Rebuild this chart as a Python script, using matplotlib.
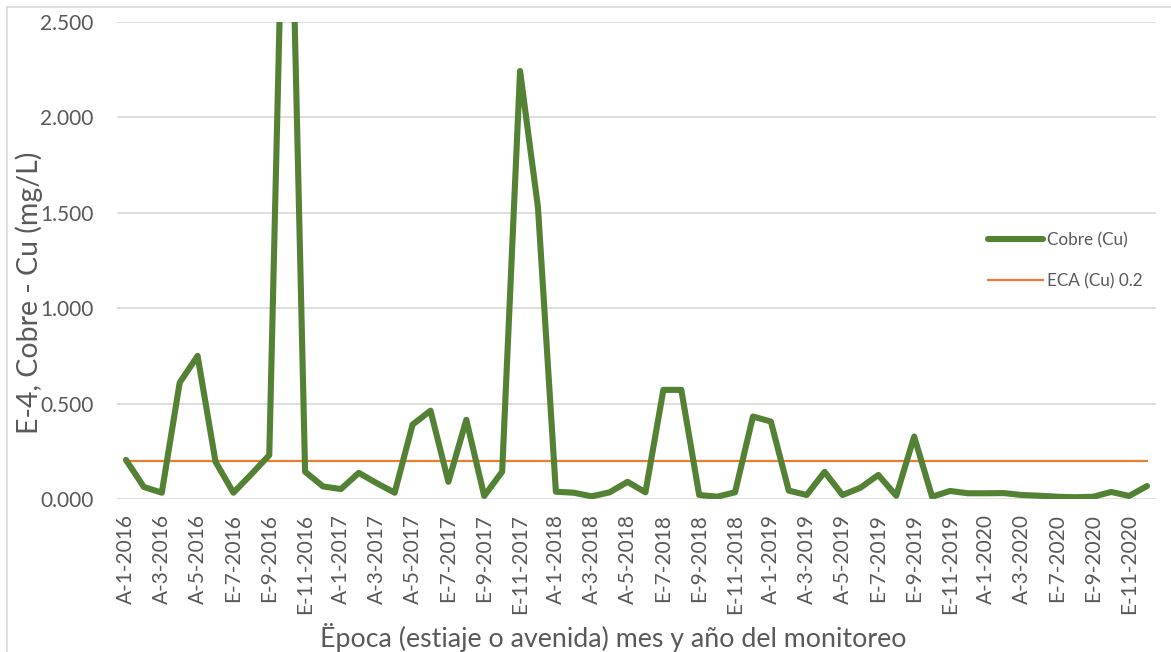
import matplotlib
matplotlib.use('Agg')
import matplotlib.pyplot as plt
from matplotlib.lines import Line2D

plt.rcParams['font.family'] = ['Lato', 'DejaVu Sans']

# monitoring months (A = avenida, E = estiaje)
years = [2016, 2017, 2018, 2019]
months_full = [1, 2, 3, 4, 5, 6, 7, 8, 9, 10, 11, 12]
months_2020 = [1, 2, 3, 4, 7, 8, 9, 10, 11, 12]

def season(m):
    return 'A' if m <= 5 else 'E'

categories = [f'{season(m)}-{m}-{y}' for y in years for m in months_full]
categories += [f'{season(m)}-{m}-2020' for m in months_2020]

# copper values (mg/L), E-4
cobre = [0.205, 0.063, 0.033, 0.610, 0.750, 0.195, 0.033, 0.130, 0.230, 4.200,
         0.143, 0.066, 0.052, 0.137, 0.083, 0.033, 0.390, 0.463, 0.090, 0.415,
         0.016, 0.143, 2.243, 1.528, 0.038, 0.033, 0.014, 0.035, 0.090, 0.035,
         0.572, 0.572, 0.021, 0.012, 0.035, 0.432, 0.406, 0.044, 0.021, 0.142,
         0.021, 0.059, 0.126, 0.017, 0.327, 0.012, 0.042, 0.030, 0.030, 0.031,
         0.021, 0.017, 0.012, 0.009, 0.012, 0.037, 0.016, 0.068]
eca_limit = 0.2
eca = [eca_limit] * len(categories)

grey_txt = '#595959'
grid_col = '#D9D9D9'

W, H = 1171, 652
fig = plt.figure(figsize=(W / 100, H / 100), dpi=100)
ax = fig.add_axes([117 / W, 1 - 499 / H, (1156 - 117) / W, (499 - 22) / H])

x = list(range(len(categories)))
ax.plot(x, cobre, color='#548235', lw=4.4, solid_joinstyle='round',
        solid_capstyle='round', label='Cobre (Cu)', zorder=3)
ax.plot(x, eca, color='#ED7D31', lw=1.6, label='ECA (Cu) 0.2', zorder=2)

ax.set_xlim(-0.5, len(categories) - 0.5)
ax.set_ylim(0, 2.5)
ax.set_yticks([0, 0.5, 1.0, 1.5, 2.0, 2.5])
ax.set_yticklabels([f'{v:.3f}' for v in [0, 0.5, 1.0, 1.5, 2.0, 2.5]])
ax.set_xticks(x[::2])
ax.set_xticklabels(categories[::2], rotation=90)
ax.tick_params(axis='y', length=0, pad=17, labelsize=15, labelcolor=grey_txt)
ax.tick_params(axis='x', length=0, pad=11, labelsize=15, labelcolor=grey_txt)
ax.grid(axis='y', color=grid_col, lw=1.2)
ax.set_axisbelow(True)
for s in ax.spines.values():
    s.set_visible(False)

fig.text(29 / W, 1 - 293 / H, 'E-4, Cobre - Cu (mg/L)', rotation=90,
         ha='center', va='center', fontsize=20.5, color=grey_txt)
fig.text(613 / W, 1 - 637 / H, 'Ëpoca (estiaje o avenida) mes y año del monitoreo',
         ha='center', va='center', fontsize=19.3, color=grey_txt)

ax.legend(loc='upper left', bbox_to_anchor=(988 / W, 1 - 232 / H),
          bbox_transform=fig.transFigure, frameon=False, fontsize=12.3,
          labelcolor=grey_txt, borderpad=0, borderaxespad=0,
          handlelength=3.2, handletextpad=0.25, labelspacing=1.45)

# chart frame (top and left edges)
fig.add_artist(Line2D([7 / W, 7 / W], [0, 1 - 7 / H], color=grid_col, lw=1.2))
fig.add_artist(Line2D([7 / W, 1], [1 - 7 / H, 1 - 7 / H], color=grid_col, lw=1.2))

fig.savefig('out.png', dpi=100)
